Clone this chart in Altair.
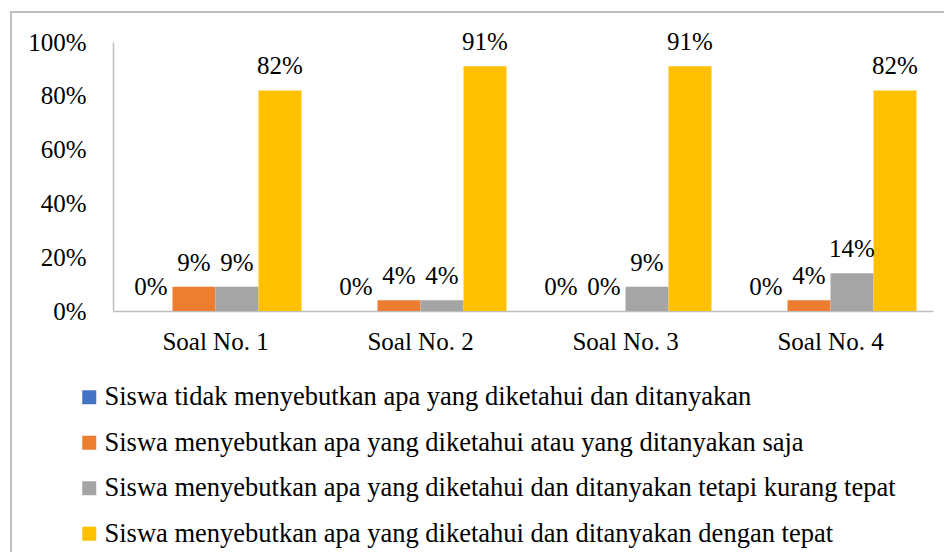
import altair as alt
import pandas as pd

categories = ["Soal No. 1", "Soal No. 2", "Soal No. 3", "Soal No. 4"]
series = [
    "Siswa tidak menyebutkan apa yang diketahui dan ditanyakan",
    "Siswa menyebutkan apa yang diketahui atau yang ditanyakan saja",
    "Siswa menyebutkan apa yang diketahui dan ditanyakan tetapi kurang tepat",
    "Siswa menyebutkan apa yang diketahui dan ditanyakan dengan tepat",
]
values_tidak = [0, 0, 0, 0]
values_atau = [9, 4, 0, 4]
values_kurang = [9, 4, 9, 14]
values_tepat = [82, 91, 91, 82]
colors = ["#4472C4", "#ED7D31", "#A5A5A5", "#FFC000"]

rows = []
for s, vals in zip(series, [values_tidak, values_atau, values_kurang, values_tepat]):
    for c, v in zip(categories, vals):
        rows.append({"cat": c, "series": s, "value": v, "label": f"{v}%"})
df = pd.DataFrame(rows)

FONT = "Liberation Serif, Times New Roman, serif"

base = alt.Chart(df).encode(
    x=alt.X("cat:N", sort=categories,
            scale=alt.Scale(paddingInner=0.161, paddingOuter=0.0805),
            axis=alt.Axis(title=None, labelAngle=0, ticks=False, domainColor="#bfbfbf",
                          domainWidth=1.5, labelFontSize=25, labelColor="#000000",
                          labelPadding=18, labelFont=FONT)),
    xOffset=alt.XOffset("series:N", sort=series, scale=alt.Scale(domain=series)),
    y=alt.Y("value:Q", scale=alt.Scale(domain=[0, 100], nice=False),
            axis=alt.Axis(title=None, values=[0, 20, 40, 60, 80, 100],
                          labelExpr="datum.value + '%'", grid=False, ticks=False,
                          domainColor="#bfbfbf", domainWidth=1.5, labelFontSize=25,
                          labelColor="#000000", labelPadding=27, labelFont=FONT)),
)

bars = base.mark_bar().encode(
    color=alt.Color("series:N", sort=series,
                    scale=alt.Scale(domain=series, range=colors),
                    legend=alt.Legend(title=None, orient="none", legendX=-37, legendY=342,
                                      direction="vertical", columns=1, symbolType="square",
                                      symbolSize=196, symbolStrokeWidth=0, labelFontSize=26.5,
                                      labelFont=FONT, labelColor="#000000", labelLimit=1000,
                                      rowPadding=18.5, labelOffset=2, padding=0)),
)

texts = base.mark_text(baseline="alphabetic", dy=-16, fontSize=25, font=FONT,
                       color="#000000").encode(text="label:N")

border = alt.Chart(alt.Data(values=[{}])).mark_rect(
    fill="transparent", stroke="#bfbfbf", strokeWidth=2
).encode(x=alt.value(-102), x2=alt.value(2000), y=alt.value(-30), y2=alt.value(2000))

chart = alt.layer(border, bars, texts).properties(
    width=820, height=269,
    autosize=alt.AutoSizeParams(type="none"),
    padding={"left": 105, "top": 34, "right": 11, "bottom": 241},
).configure(font=FONT).configure_view(strokeWidth=0, stroke="transparent")

chart.save("out.html", embed_options={"renderer": "svg", "actions": False})
